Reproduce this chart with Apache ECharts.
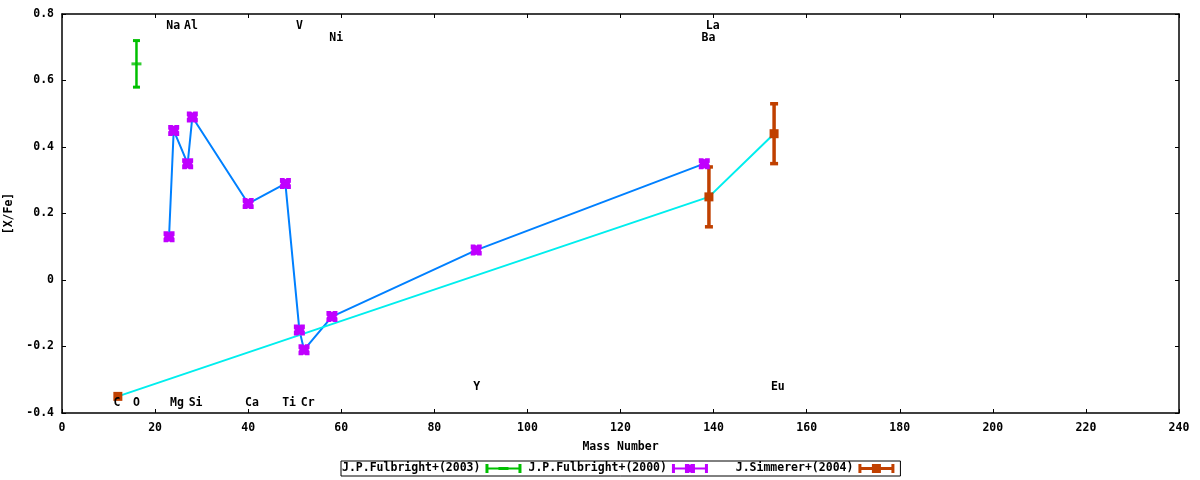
<!DOCTYPE html>
<html><head><meta charset="utf-8">
<script src="https://cdn.jsdelivr.net/npm/echarts@6/dist/echarts.min.js"></script>
<style>html,body{margin:0;padding:0;background:#fff}#c{width:1200px;height:480px}</style>
</head><body><div id="c"></div>
<script>
// Fulbright+(2003)
const f03Mass = [16];
const f03Val = [0.65];
const f03Err = [0.07];
// Fulbright+(2000)
const f00Mass = [23, 24, 27, 28, 40, 48, 51, 52, 58, 89, 138];
const f00Val = [0.13, 0.45, 0.35, 0.49, 0.23, 0.29, -0.15, -0.21, -0.11, 0.09, 0.35];
// Simmerer+(2004)
const simMass = [12, 139, 153];
const simVal = [-0.35, 0.25, 0.44];
const simErr = [0, 0.09, 0.09];
// element labels
const elemNames = ['C','O','Na','Mg','Al','Si','Ca','Ti','V','Cr','Ni','Y','Ba','La','Eu'];
const elemX = [11.8, 16, 23.9, 24.7, 27.7, 28.7, 40.8, 48.8, 51, 52.8, 58.9, 89.1, 138.9, 139.8, 153.8];
const elemY = [-0.371, -0.371, 0.764, -0.371, 0.764, -0.371, -0.371, -0.371, 0.764, -0.371, 0.728, -0.323, 0.728, 0.764, -0.323];
const xTicks = {min: 0, max: 240, interval: 20};
const yTicks = {min: -0.4, max: 0.8, interval: 0.2};

const FONT = '"DejaVu Sans Mono", monospace';
const C_GREEN = '#00c000', C_BLUE = '#0080ff', C_MAG = '#c000ff', C_CYAN = '#00eeee', C_BROWN = '#c04000';

const name03 = 'J.P.Fulbright+(2003)', name00 = 'J.P.Fulbright+(2000)', nameSim = 'J.Simmerer+(2004)';

function errBar(color, lw, capHalf, capW) {
  return function (params, api) {
    const x = api.value(0), y = api.value(1), e = api.value(2);
    if (!e) return null;
    const t = api.coord([x, y + e]), b = api.coord([x, y - e]);
    return {
      type: 'group', children: [
        {type: 'line', shape: {x1: t[0], y1: t[1], x2: b[0], y2: b[1]}, style: {stroke: color, lineWidth: lw}},
        {type: 'line', shape: {x1: t[0] - capHalf, y1: t[1], x2: t[0] + capHalf, y2: t[1]}, style: {stroke: color, lineWidth: capW}},
        {type: 'line', shape: {x1: b[0] - capHalf, y1: b[1], x2: b[0] + capHalf, y2: b[1]}, style: {stroke: color, lineWidth: capW}}
      ]
    };
  };
}

const xMark = 'path://M0,0h4l1,1l1,-1h4v4l-1,1l1,1v4h-4l-1,-1l-1,1h-4v-4l1,-1l-1,-1z';
const iconGreen = 'path://M0,0h3v9h-3z M33,0h3v9h-3z M0,3.5h36v2h-36z M13,3h10v3h-10z';
const iconMag = 'path://M0,0h3v9h-3z M33,0h3v9h-3z M0,3.5h36v2h-36z M13,0h4l1,1l1,-1h4v3.5l-1,1l1,1v3.5h-4l-1,-1l-1,1h-4v-3.5l1,-1l-1,-1z';
const iconBrown = 'path://M0,0h3v9h-3z M33,0h3v9h-3z M0,3h36v3h-36z M13.5,0h9v9h-9z';

const axisLineStyle = {color: '#000', width: 1.5};
const tickStyle = {show: true, inside: true, length: 4, lineStyle: {color: '#000', width: 1}};
const labelStyle = {fontFamily: FONT, fontWeight: 'bold', fontSize: 11.5, color: '#000'};

const option = {
  animation: false,
  backgroundColor: '#fff',
  grid: {left: 62, right: 21, top: 14, bottom: 67, containLabel: false, outerBoundsMode: 'none'},
  legend: {
    left: 341, top: 461, orient: 'horizontal', align: 'right',
    itemWidth: 36, itemHeight: 9, itemGap: 7,
    padding: [1, 6, 1, 1], borderColor: '#000', borderWidth: 1,
    textStyle: {fontFamily: FONT, fontWeight: 'bold', fontSize: 11.5, color: '#000', lineHeight: 13},
    formatter: n => n === nameSim ? '   ' + n : n,
    data: [
      {name: name03, icon: iconGreen, itemStyle: {color: C_GREEN}},
      {name: name00, icon: iconMag, itemStyle: {color: C_MAG}},
      {name: nameSim, icon: iconBrown, itemStyle: {color: C_BROWN}}
    ],
    selectedMode: false
  },
  xAxis: [{
    type: 'value', position: 'bottom', min: xTicks.min, max: xTicks.max, interval: xTicks.interval,
    name: 'Mass Number', nameLocation: 'middle', nameGap: 28,
    nameTextStyle: labelStyle,
    axisLine: {show: true, onZero: false, lineStyle: axisLineStyle},
    axisTick: tickStyle, splitLine: {show: false},
    axisLabel: Object.assign({margin: 9}, labelStyle)
  }, {
    type: 'value', position: 'top', min: xTicks.min, max: xTicks.max, interval: xTicks.interval,
    axisLine: {show: true, onZero: false, lineStyle: axisLineStyle},
    axisTick: tickStyle, splitLine: {show: false}, axisLabel: {show: false}
  }],
  yAxis: [{
    type: 'value', position: 'left', min: yTicks.min, max: yTicks.max, interval: yTicks.interval,
    name: '[X/Fe]', nameLocation: 'middle', nameGap: 39, nameRotate: 90,
    nameTextStyle: labelStyle,
    axisLine: {show: true, onZero: false, lineStyle: axisLineStyle},
    axisTick: tickStyle, splitLine: {show: false},
    axisLabel: Object.assign({margin: 8}, labelStyle)
  }, {
    type: 'value', position: 'right', min: yTicks.min, max: yTicks.max, interval: yTicks.interval,
    axisLine: {show: true, onZero: false, lineStyle: axisLineStyle},
    axisTick: tickStyle, splitLine: {show: false}, axisLabel: {show: false}
  }],
  series: [
    {
      name: 'f00line', type: 'line', xAxisIndex: 0, yAxisIndex: 0, symbol: 'none',
      lineStyle: {color: C_BLUE, width: 2}, z: 2,
      data: f00Mass.map((m, i) => [m, f00Val[i]])
    },
    {
      name: 'simline', type: 'line', xAxisIndex: 0, yAxisIndex: 0, symbol: 'none',
      lineStyle: {color: C_CYAN, width: 2}, z: 2,
      data: simMass.map((m, i) => [m, simVal[i]])
    },
    {
      name: name03, type: 'custom', renderItem: errBar(C_GREEN, 2.5, 3.5, 3), z: 3,
      itemStyle: {color: C_GREEN},
      data: f03Mass.map((m, i) => [m, f03Val[i], f03Err[i]])
    },
    {
      name: name03, type: 'scatter', symbol: 'rect', symbolSize: [10, 3], z: 4,
      itemStyle: {color: C_GREEN},
      data: f03Mass.map((m, i) => [m, f03Val[i]])
    },
    {
      name: name00, type: 'scatter', symbol: xMark, symbolSize: 11, z: 4,
      itemStyle: {color: C_MAG, opacity: 1},
      data: f00Mass.map((m, i) => [m, f00Val[i]])
    },
    {
      name: nameSim, type: 'custom', renderItem: errBar(C_BROWN, 3.5, 4, 3.5), z: 3,
      itemStyle: {color: C_BROWN},
      data: simMass.map((m, i) => [m, simVal[i], simErr[i]])
    },
    {
      name: nameSim, type: 'scatter', symbol: 'rect', symbolSize: 9, z: 4,
      itemStyle: {color: C_BROWN, opacity: 1},
      data: simMass.map((m, i) => [m, simVal[i]])
    },
    {
      name: 'labels', type: 'custom', z: 5,
      renderItem: function (params, api) {
        const p = api.coord([api.value(0), api.value(1)]);
        return {
          type: 'text', x: p[0], y: p[1],
          style: {text: elemNames[params.dataIndex], textAlign: 'center', textVerticalAlign: 'middle',
            font: 'bold 11.5px ' + FONT, fill: '#000'}
        };
      },
      data: elemX.map((x, i) => [x, elemY[i]])
    }
  ]
};
const chart = echarts.init(document.getElementById('c'));
chart.setOption(option);
</script>
</body></html>
